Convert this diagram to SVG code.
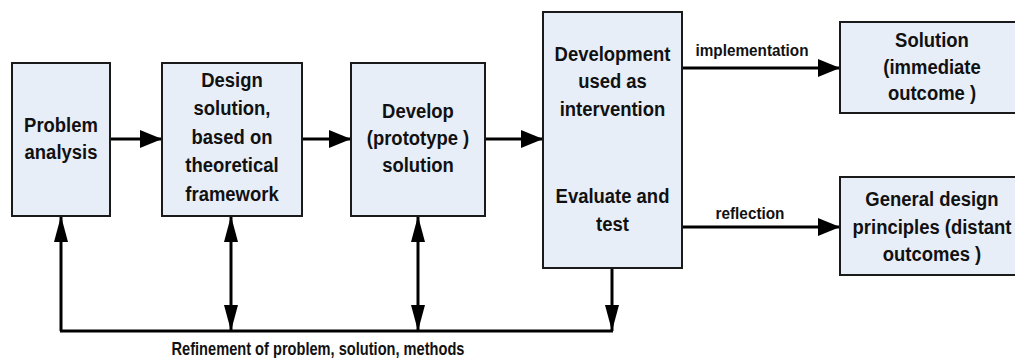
<svg xmlns="http://www.w3.org/2000/svg" width="1015" height="358" viewBox="0 0 1015 358">
  <style>
    .box { fill: #e8eef7; stroke: #1a1a1a; stroke-width: 2; }
    .lbl { font-family: "Liberation Sans", Arial, sans-serif; font-weight: bold; font-size: 20.5px; fill: #111; text-anchor: middle; }
    .small { font-family: "Liberation Sans", Arial, sans-serif; font-weight: bold; font-size: 16.5px; fill: #111; text-anchor: middle; }
    .caption { font-size: 18px; }
    .wire { fill: none; stroke: #000; stroke-width: 3; }
  </style>
  <defs>
    <marker id="ah" markerUnits="userSpaceOnUse" markerWidth="22" markerHeight="18" refX="22" refY="9" orient="auto">
      <path d="M0,0 L22,9 L0,18 z" fill="#000"/>
    </marker>
    <marker id="av" markerUnits="userSpaceOnUse" markerWidth="26" markerHeight="14" refX="26" refY="7" orient="auto-start-reverse">
      <path d="M0,0 L26,7 L0,14 z" fill="#000"/>
    </marker>
  </defs>

  <rect width="1015" height="358" fill="#fff"/>

  <!-- connectors -->
  <g id="connectors">
    <line class="wire" x1="110" y1="139" x2="162" y2="139" marker-end="url(#ah)"/>
    <line class="wire" x1="302" y1="139" x2="351" y2="139" marker-end="url(#ah)"/>
    <line class="wire" x1="485" y1="139" x2="543" y2="139" marker-end="url(#ah)"/>
    <line class="wire" x1="682" y1="68" x2="840" y2="68" marker-end="url(#ah)"/>
    <line class="wire" x1="682" y1="227" x2="840" y2="227" marker-end="url(#ah)"/>
    <text class="small" x="752" y="56" textLength="113" lengthAdjust="spacingAndGlyphs">implementation</text>
    <text class="small" x="750" y="219" textLength="69" lengthAdjust="spacingAndGlyphs">reflection</text>

    <!-- refinement feedback loop -->
    <line class="wire" x1="60" y1="331" x2="613" y2="331"/>
    <line class="wire" x1="61" y1="331" x2="61" y2="216" marker-end="url(#av)"/>
    <line class="wire" x1="231" y1="216" x2="231" y2="331" marker-start="url(#av)" marker-end="url(#av)"/>
    <line class="wire" x1="418" y1="216" x2="418" y2="331" marker-start="url(#av)" marker-end="url(#av)"/>
    <line class="wire" x1="612" y1="268" x2="612" y2="331" marker-end="url(#av)"/>
    <text class="small caption" x="318" y="355" textLength="293" lengthAdjust="spacingAndGlyphs">Refinement of problem, solution, methods</text>
  </g>

  <g id="problem-analysis">
    <rect class="box" x="12" y="63" width="98" height="153"/>
    <g transform="translate(61 0) scale(0.9 1)">
      <text class="lbl" x="0" y="132">Problem</text>
      <text class="lbl" x="0" y="159">analysis</text>
    </g>
  </g>

  <g id="design-solution">
    <rect class="box" x="162" y="63" width="140" height="153"/>
    <g transform="translate(232 0) scale(0.9 1)">
      <text class="lbl" x="0" y="87">Design</text>
      <text class="lbl" x="0" y="115.5">solution,</text>
      <text class="lbl" x="0" y="144">based on</text>
      <text class="lbl" x="0" y="172.5">theoretical</text>
      <text class="lbl" x="0" y="201">framework</text>
    </g>
  </g>

  <g id="develop-prototype">
    <rect class="box" x="351" y="63" width="134" height="153"/>
    <g transform="translate(418 0) scale(0.9 1)">
      <text class="lbl" x="0" y="118">Develop</text>
      <text class="lbl" x="0" y="145">(prototype )</text>
      <text class="lbl" x="0" y="172">solution</text>
    </g>
  </g>

  <g id="intervention-evaluate">
    <rect class="box" x="543" y="12" width="139" height="256"/>
    <g transform="translate(612.5 0) scale(0.9 1)">
      <text class="lbl" x="0" y="61">Development</text>
      <text class="lbl" x="0" y="88">used as</text>
      <text class="lbl" x="0" y="116">intervention</text>
      <text class="lbl" x="0" y="203">Evaluate and</text>
      <text class="lbl" x="0" y="231">test</text>
    </g>
  </g>

  <g id="solution-outcome">
    <rect class="box" x="840" y="22" width="185" height="91"/>
    <g transform="translate(932 0) scale(0.9 1)">
      <text class="lbl" x="0" y="47">Solution</text>
      <text class="lbl" x="0" y="74">(immediate</text>
      <text class="lbl" x="0" y="100">outcome )</text>
    </g>
  </g>

  <g id="design-principles">
    <rect class="box" x="840" y="177" width="185" height="98"/>
    <g transform="translate(932 0) scale(0.9 1)">
      <text class="lbl" x="0" y="206">General design</text>
      <text class="lbl" x="0" y="234">principles (distant</text>
      <text class="lbl" x="0" y="261">outcomes )</text>
    </g>
  </g>
</svg>
